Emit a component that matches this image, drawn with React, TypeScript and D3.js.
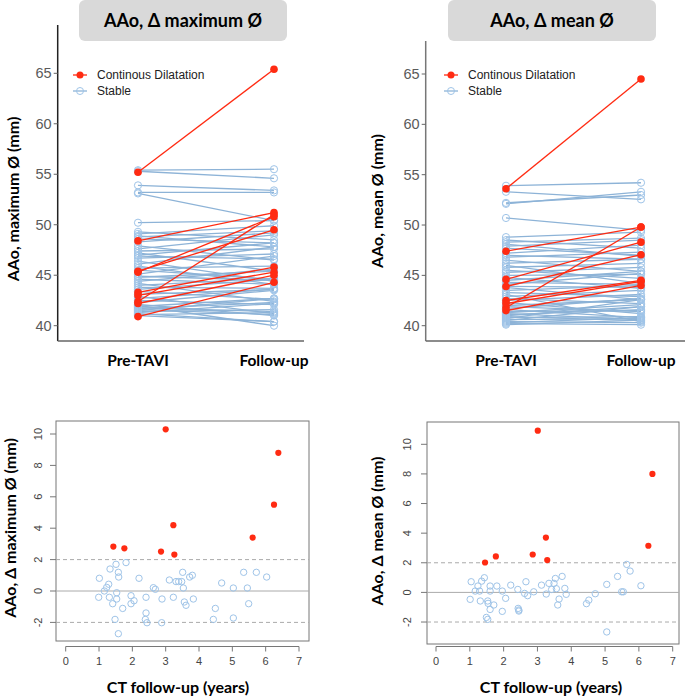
import React from "react";
import * as d3 from "d3";

// ---------- data ----------
const timepoints = ["Pre-TAVI", "Follow-up"];
const groups = ["Continous Dilatation", "Stable"];
const yTicksTop = [40, 45, 50, 55, 60, 65];
const xTicksBottom = [0, 1, 2, 3, 4, 5, 6, 7];
const yTicksBottom = [-2, 0, 2, 4, 6, 8, 10];

// AAo maximum diameter (mm)
const maxStablePre = [55.4, 55.3, 53.9, 53.2, 53.1, 50.2, 49.3, 49.1, 48.9, 48.8, 48.6, 48.3, 47.9, 47.6, 47.4, 47.2, 47.0, 46.9, 46.7, 46.4, 46.1, 45.9, 45.7, 45.5, 45.1, 44.9, 44.8, 44.6, 44.4, 44.2, 44.0, 43.8, 43.6, 43.4, 43.1, 42.9, 42.7, 42.5, 42.3, 42.1, 42.0, 41.9, 41.8, 41.7, 41.6, 41.5, 41.4, 41.3, 41.2, 41.1, 41.0];
const maxStableFollow = [55.5, 54.6, 53.4, 53.2, 50.4, 50.4, 48.5, 49.9, 47.8, 49.4, 48.2, 49.2, 46.5, 49.0, 47.6, 45.4, 48.2, 46.6, 47.1, 44.4, 47.8, 44.1, 45.9, 44.6, 46.9, 44.5, 45.4, 44.1, 45.6, 42.4, 44.7, 43.7, 44.6, 42.6, 43.6, 41.2, 43.6, 42.1, 43.5, 41.0, 40.0, 42.7, 41.4, 42.3, 41.1, 42.7, 41.6, 42.2, 40.4, 41.3, 40.4];
const maxDilPre = [55.2, 48.4, 45.4, 42.4, 45.3, 43.3, 43.0, 40.9, 42.2];
const maxDilFollow = [65.4, 51.2, 49.5, 51.0, 50.8, 45.8, 45.3, 44.3, 45.0];

// AAo mean diameter (mm)
const meanStablePre = [53.9, 53.3, 52.2, 52.1, 50.7, 48.8, 48.5, 48.3, 48.1, 47.9, 47.7, 47.2, 47.0, 46.8, 46.5, 46.2, 46.0, 45.8, 45.5, 45.3, 45.0, 44.8, 44.5, 44.3, 44.1, 43.9, 43.8, 43.5, 43.3, 43.1, 42.9, 42.7, 42.5, 42.3, 42.0, 41.9, 41.7, 41.6, 41.4, 41.3, 41.2, 41.1, 41.0, 40.9, 40.8, 40.7, 40.6, 40.5, 40.4, 40.3, 40.2, 40.1];
const meanStableFollow = [54.2, 52.55, 52.98, 53.3, 49.5, 49.3, 47.7, 48.7, 46.9, 48.5, 47.0, 48.0, 46.6, 47.3, 45.4, 46.6, 44.2, 46.2, 44.7, 45.8, 45.1, 43.7, 45.4, 44.1, 45.2, 43.8, 42.6, 44.0, 42.9, 40.4, 43.5, 42.2, 43.1, 41.2, 42.6, 41.4, 42.7, 40.8, 41.5, 42.1, 40.6, 41.6, 41.9, 40.5, 40.9, 42.6, 40.7, 41.9, 40.3, 40.8, 40.1, 40.55];
const meanDilPre = [53.6, 47.4, 44.6, 43.9, 41.8, 42.5, 42.2, 41.5];
const meanDilFollow = [64.5, 49.8, 48.3, 47.05, 49.8, 44.5, 44.4, 44.0];

// Delta maximum vs CT follow-up (years)
const dMaxStableYears = [1.01, 0.99, 1.16, 1.23, 1.29, 1.33, 1.31, 1.41, 1.48, 1.51, 1.53, 1.53, 1.58, 1.59, 1.58, 1.71, 1.81, 1.96, 1.96, 2.05, 2.20, 2.41, 2.41, 2.39, 2.44, 2.63, 2.69, 2.89, 2.88, 3.11, 3.23, 3.31, 3.39, 3.48, 3.51, 3.53, 3.56, 3.61, 3.72, 3.80, 3.83, 4.43, 4.49, 4.68, 5.03, 5.03, 5.34, 5.45, 5.49, 5.72, 6.03];
const dMaxStableDelta = [0.81, -0.40, 0.0, 0.23, 0.43, 1.40, -0.40, -0.81, -1.81, 1.70, -0.11, -0.51, 1.19, 0.89, -2.72, -1.11, 1.81, -0.30, -0.81, -0.62, 0.81, -0.40, -1.40, -1.81, -2.02, 0.21, 0.11, -0.51, -2.02, 0.70, -0.40, 0.60, 0.60, 0.60, 1.19, 0.19, -0.70, -0.91, 0.89, 1.00, -0.51, -1.81, -1.11, 0.51, 0.19, -1.72, 1.19, 0.19, -0.81, 1.19, 0.89];
const dMaxDilYears = [1.43, 1.76, 2.86, 3.0, 3.23, 3.26, 5.61, 6.25, 6.38];
const dMaxDilDelta = [2.83, 2.72, 2.51, 10.3, 4.19, 2.32, 3.4, 5.5, 8.8];

// Delta mean vs CT follow-up (years)
const dMeanStableYears = [1.01, 1.04, 1.16, 1.24, 1.29, 1.31, 1.35, 1.43, 1.49, 1.53, 1.53, 1.54, 1.60, 1.60, 1.60, 1.71, 1.80, 1.96, 1.96, 2.06, 2.21, 2.42, 2.43, 2.45, 2.45, 2.62, 2.66, 2.71, 2.89, 3.12, 3.26, 3.34, 3.42, 3.49, 3.53, 3.56, 3.60, 3.64, 3.73, 3.81, 3.85, 4.45, 4.52, 4.71, 5.05, 5.05, 5.37, 5.49, 5.54, 5.64, 5.74, 6.06];
const dMeanStableDelta = [-0.47, 0.72, 0.09, 0.43, 0.09, -0.58, 0.76, 0.99, -1.69, -1.82, -0.58, -0.74, 0.09, -1.15, 0.43, -0.85, 0.43, 0.09, -1.28, -0.40, 0.49, 0.20, -1.08, -1.19, -1.26, -0.07, 0.72, -0.22, 0.04, 0.49, -0.11, 0.61, 0.20, 0.61, 0.94, 0.25, -0.85, -0.45, 1.08, 0.27, -0.13, -0.76, -0.52, -0.09, 0.54, -2.67, 1.08, 0.04, 0.04, 1.89, 1.44, 0.45];
const dMeanDilYears = [1.45, 1.77, 2.86, 3.01, 3.25, 3.29, 6.28, 6.40];
const dMeanDilDelta = [2.02, 2.43, 2.56, 10.92, 3.70, 2.18, 3.15, 8.0];

// ---------- style ----------
const RED = "#ff2b12";
const BLUE_LINE = "#8db3d7";
const BLUE_PT = "#9fc4e8";
const BOLD = "Lato, 'Open Sans', sans-serif";
const SANS = "'Liberation Sans', Arial, sans-serif";

type TopProps = {
  title: string; yTitle: string; hx0: number; hx1: number; axisX: number; axisTop: number;
  axisRight: number; axisColor: string; x0: number; x1: number; y40: number; y65: number;
  titleX: number; titleY: number; legX: number;
  sPre: number[]; sFol: number[]; dPre: number[]; dFol: number[];
};

function TopPanel(p: TopProps) {
  const x = d3.scalePoint<string>().domain(timepoints).range([p.x0, p.x1]);
  const y = d3.scaleLinear().domain([40, 65]).range([p.y40, p.y65]);
  const base = 341;
  const xa = x(timepoints[0])!, xb = x(timepoints[1])!;
  return (
    <g>
      <rect x={p.hx0} y={0} width={p.hx1 - p.hx0} height={41} rx={6} fill="#d9d9d9" />
      <text x={(p.hx0 + p.hx1) / 2} y={27} textAnchor="middle" fontFamily={BOLD} fontWeight="bold" fontSize={18} fill="#000">{p.title}</text>
      <line x1={p.axisX} x2={p.axisX} y1={p.axisTop} y2={base} stroke={p.axisColor} strokeWidth={1.5} />
      <line x1={p.axisX} x2={p.axisRight} y1={base} y2={base} stroke="#666" strokeWidth={1.5} />
      {yTicksTop.map((t) => (
        <g key={t}>
          <line x1={p.axisX - 4} x2={p.axisX} y1={y(t)} y2={y(t)} stroke="#666" strokeWidth={1} />
          <text x={p.axisX - 6} y={y(t) + 5} textAnchor="end" fontFamily={SANS} fontSize={14.5} fill="#5a5a5a">{t}</text>
        </g>
      ))}
      {timepoints.map((t) => (
        <text key={t} x={x(t)} y={366} textAnchor="middle" fontFamily={BOLD} fontWeight="bold" fontSize={15.5} fill="#000">{t}</text>
      ))}
      <text transform={`translate(${p.titleX},${p.titleY}) rotate(-90)`} textAnchor="middle" fontFamily={BOLD} fontWeight="bold" fontSize={16} fill="#000">{p.yTitle}</text>
      {/* stable lines */}
      {p.sPre.map((v, i) => (
        <line key={"sl" + i} x1={xa} x2={xb} y1={y(v)} y2={y(p.sFol[i])} stroke={BLUE_LINE} strokeWidth={1.3} />
      ))}
      {p.sPre.map((v, i) => (
        <g key={"sp" + i}>
          <circle cx={xa} cy={y(v)} r={3.6} fill="none" stroke={BLUE_PT} strokeWidth={1} />
          <circle cx={xb} cy={y(p.sFol[i])} r={3.6} fill="none" stroke={BLUE_PT} strokeWidth={1} />
        </g>
      ))}
      {p.dPre.map((v, i) => (
        <line key={"dl" + i} x1={xa} x2={xb} y1={y(v)} y2={y(p.dFol[i])} stroke={RED} strokeWidth={1.3} />
      ))}
      {p.dPre.map((v, i) => (
        <g key={"dp" + i}>
          <circle cx={xa} cy={y(v)} r={3.8} fill={RED} />
          <circle cx={xb} cy={y(p.dFol[i])} r={3.8} fill={RED} />
        </g>
      ))}
      {/* legend */}
      <line x1={p.legX - 7} x2={p.legX + 7} y1={75} y2={75} stroke={RED} strokeWidth={1.3} />
      <circle cx={p.legX} cy={75} r={3.5} fill={RED} />
      <text x={p.legX + 17} y={79} fontFamily={SANS} fontSize={12} fill="#222">{groups[0]}</text>
      <line x1={p.legX - 7} x2={p.legX + 7} y1={91} y2={91} stroke={BLUE_LINE} strokeWidth={1.3} />
      <circle cx={p.legX} cy={91} r={3.5} fill="none" stroke={BLUE_PT} strokeWidth={1} />
      <text x={p.legX + 17} y={95} fontFamily={SANS} fontSize={12} fill="#222">{groups[1]}</text>
    </g>
  );
}

type BotProps = {
  yTitle: string; bx0: number; bx1: number; by0: number; by1: number;
  xz: number; xs: number; yz: number; yt: number; titleX: number; titleY: number; xTitleX: number; tickLabX: number;
  sX: number[]; sY: number[]; dX: number[]; dY: number[];
};

function BottomPanel(p: BotProps) {
  const x = d3.scaleLinear().domain([0, 7]).range([p.xz, p.xs]);
  const y = d3.scaleLinear().domain([0, 10]).range([p.yz, p.yt]);
  const axY = 646.5;
  return (
    <g>
      <rect x={p.bx0} y={p.by0} width={p.bx1 - p.bx0} height={p.by1 - p.by0} fill="none" stroke="#777" strokeWidth={1} />
      {[-2, 2].map((v) => (
        <line key={v} x1={p.bx0} x2={p.bx1} y1={y(v)} y2={y(v)} stroke="#aaa" strokeWidth={1} strokeDasharray="4,3" />
      ))}
      <line x1={p.bx0} x2={p.bx1} y1={y(0)} y2={y(0)} stroke="#aaa" strokeWidth={1} />
      <line x1={x(0)} x2={x(7)} y1={axY} y2={axY} stroke="#777" strokeWidth={1} />
      {xTicksBottom.map((t) => (
        <g key={t}>
          <line x1={x(t)} x2={x(t)} y1={axY} y2={axY + 5} stroke="#777" strokeWidth={1} />
          <text x={x(t)} y={axY + 18} textAnchor="middle" fontFamily={SANS} fontSize={11} fill="#444">{t}</text>
        </g>
      ))}
      {yTicksBottom.map((t) => (
        <g key={t}>
          <line x1={p.bx0 - 6} x2={p.bx0} y1={y(t)} y2={y(t)} stroke="#777" strokeWidth={1} />
          <text transform={`translate(${p.tickLabX},${y(t)}) rotate(-90)`} textAnchor="middle" fontFamily={SANS} fontSize={11} fill="#444">{t}</text>
        </g>
      ))}
      <text x={p.xTitleX} y={693} textAnchor="middle" fontFamily={BOLD} fontWeight="bold" fontSize={16} fill="#000">CT follow-up (years)</text>
      <text transform={`translate(${p.titleX},${p.titleY}) rotate(-90)`} textAnchor="middle" fontFamily={BOLD} fontWeight="bold" fontSize={16} fill="#000">{p.yTitle}</text>
      {p.sX.map((v, i) => (
        <circle key={"s" + i} cx={x(v)} cy={y(p.sY[i])} r={3.2} fill="none" stroke={BLUE_PT} strokeWidth={1} />
      ))}
      {p.dX.map((v, i) => (
        <circle key={"d" + i} cx={x(v)} cy={y(p.dY[i])} r={3.1} fill={RED} />
      ))}
    </g>
  );
}

export default function App() {
  return (
    <div style={{ position: "absolute", left: 0, top: 0, width: 685, height: 696, background: "#fff" }}>
      <svg width={685} height={696} viewBox="0 0 685 696" style={{ display: "block" }}>
        <rect width={685} height={696} fill="#fff" />
        <TopPanel title="AAo, Δ maximum Ø" yTitle="AAo, maximum Ø (mm)" hx0={79} hx1={287} axisX={57.7} axisTop={25}
          axisRight={304} axisColor="#222" x0={138} x1={274} y40={325.7} y65={73.3} titleX={19} titleY={199} legX={80}
          sPre={maxStablePre} sFol={maxStableFollow} dPre={maxDilPre} dFol={maxDilFollow} />
        <TopPanel title="AAo, Δ mean Ø" yTitle="AAo, mean Ø (mm)" hx0={448} hx1={656} axisX={425.7} axisTop={41}
          axisRight={685} axisColor="#777" x0={506} x1={641} y40={325.7} y65={74} titleX={383} titleY={201} legX={451}
          sPre={meanStablePre} sFol={meanStableFollow} dPre={meanDilPre} dFol={meanDilFollow} />
        <BottomPanel yTitle="AAo, Δ maximum Ø (mm)" bx0={56} bx1={309} by0={421} by1={641} xz={65.7} xs={299} yz={591} yt={434}
          titleX={16} titleY={528} xTitleX={178} tickLabX={42}
          sX={dMaxStableYears} sY={dMaxStableDelta} dX={dMaxDilYears} dY={dMaxDilDelta} />
        <BottomPanel yTitle="AAo, Δ mean Ø (mm)" bx0={427} bx1={679} by0={422} by1={644} xz={436} xs={672.7} yz={592.4} yt={444.3}
          titleX={383} titleY={531} xTitleX={551} tickLabX={411}
          sX={dMeanStableYears} sY={dMeanStableDelta} dX={dMeanDilYears} dY={dMeanDilDelta} />
      </svg>
    </div>
  );
}
